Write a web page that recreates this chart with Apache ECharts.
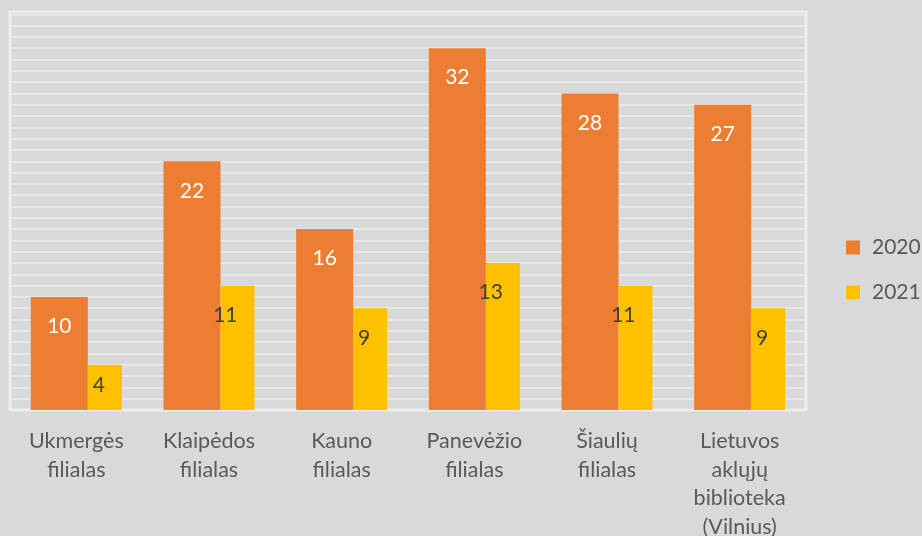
<!DOCTYPE html>
<html lang="lt">
<head>
    <meta charset="UTF-8">
    <title>Filialai 2020-2021</title>
    <style type="text/css">
        html, body { margin: 0; padding: 0; background: #d9d9d9; }
        #chart { width: 922px; height: 536px; }
    </style>
</head>
<body>
<div id="chart"></div>
<script src="https://cdn.jsdelivr.net/npm/echarts@6/dist/echarts.min.js"></script>
<script type="text/javascript">
    // duomenys
    var categories = ['Ukmergės\nfilialas', 'Klaipėdos\nfilialas', 'Kauno\nfilialas',
        'Panevėžio\nfilialas', 'Šiaulių\nfilialas', 'Lietuvos\naklųjų\nbiblioteka\n(Vilnius)'];
    var seriesNames = ['2020', '2021'];
    var values2020 = [10, 22, 16, 32, 28, 27];
    var values2021 = [4, 11, 9, 13, 11, 9];

    var FONT = 'Lato, "Open Sans", sans-serif';

    // maži stulpeliai - etiketė arčiau viršaus
    function withLabels(vals) {
        return vals.map(function (v) {
            if (v < 6) {
                return { value: v, label: { distance: 10 } };
            }
            return v;
        });
    }

    var myChart = echarts.init(document.getElementById('chart'));
    var option = {
        backgroundColor: '#d9d9d9',
        animation: false,
        grid: {
            left: 10,
            right: 116,
            top: 12,
            bottom: 126,
            outerBoundsMode: 'none',
            show: true,
            borderColor: '#eeeeee',
            borderWidth: 3,
            backgroundColor: 'transparent'
        },
        legend: {
            orient: 'vertical',
            left: 846,
            top: 237,
            padding: 0,
            itemWidth: 14,
            itemHeight: 14,
            itemGap: 24,
            icon: 'rect',
            data: seriesNames,
            textStyle: {
                color: '#595959',
                fontFamily: FONT,
                fontSize: 21,
                lineHeight: 21,
                padding: [0, 0, 0, 7]
            }
        },
        xAxis: {
            type: 'category',
            data: categories,
            axisLine: { show: false },
            axisTick: { show: false },
            axisLabel: {
                interval: 0,
                margin: 17,
                color: '#595959',
                fontFamily: FONT,
                fontSize: 21.5,
                lineHeight: 28.5
            }
        },
        yAxis: {
            type: 'value',
            min: 0,
            max: 35.2,
            interval: 1,
            axisLabel: { show: false },
            axisLine: { show: false },
            axisTick: { show: false },
            splitLine: { lineStyle: { color: '#ebebeb', width: 1.5 } }
        },
        series: [
            {
                name: seriesNames[0],
                type: 'bar',
                barWidth: 57,
                barGap: '0%',
                itemStyle: { color: '#ed7d31' },
                label: {
                    show: true,
                    position: 'insideTop',
                    distance: 19,
                    color: '#ffffff',
                    fontFamily: FONT,
                    fontSize: 21
                },
                data: withLabels(values2020)
            },
            {
                name: seriesNames[1],
                type: 'bar',
                barWidth: 34,
                barGap: '0%',
                itemStyle: { color: '#ffc000' },
                label: {
                    show: true,
                    position: 'insideTop',
                    distance: 19,
                    align: 'right',
                    color: '#404040',
                    fontFamily: FONT,
                    fontSize: 21
                },
                data: withLabels(values2021)
            }
        ]
    };
    myChart.setOption(option);
</script>
</body>
</html>
